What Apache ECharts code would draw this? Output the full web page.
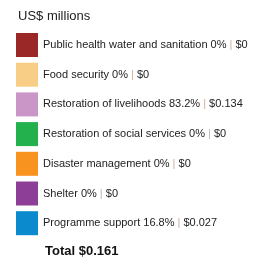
<!DOCTYPE html>
<html lang="en">
<head>
<meta charset="UTF-8">
<style>
  html, body { height: 100%; margin: 0; background: #fff; }
</style>
</head>
<body>
<div id="chart" style="width:258px;height:258px;"></div>
<script src="https://cdn.jsdelivr.net/npm/echarts@6/dist/echarts.min.js"></script>
<script>
var categories = ['Public health water and sanitation', 'Food security', 'Restoration of livelihoods',
    'Restoration of social services', 'Disaster management', 'Shelter', 'Programme support'];
var percents = ['0', '0', '83.2', '0', '0', '0', '16.8'];
var amounts = [0, 0, 0.134, 0, 0, 0, 0.027];
var colors = ['#992826', '#f8cd85', '#c996c7', '#22b14c', '#f7931e', '#8d3f97', '#0b8bcd'];

var total = amounts.reduce(function (a, b) { return a + b; }, 0);

function fmt(v) {
    return v === 0 ? '$0' : '$' + v.toFixed(3);
}

var myChart = echarts.init(document.getElementById('chart'));
myChart.setOption({
    animation: false,
    color: colors,
    title: [{
        text: 'US$ millions',
        left: 13,
        top: 5,
        textStyle: { fontFamily: 'Liberation Sans', fontSize: 13, fontWeight: 'normal', color: '#222' }
    }, {
        text: 'Total ' + fmt(total),
        left: 40,
        top: 240,
        textStyle: { fontFamily: 'Liberation Sans', fontSize: 13, fontWeight: 'bold', color: '#111' }
    }],
    legend: {
        orient: 'vertical',
        left: 16,
        top: 33,
        padding: 0,
        icon: 'rect',
        itemWidth: 22,
        itemHeight: 24,
        itemGap: 5.7,
        selectedMode: false,
        data: categories,
        formatter: function (name) {
            var i = categories.indexOf(name);
            return '{n|' + name + ' ' + percents[i] + '% }{s||}{n| ' + fmt(amounts[i]) + '}';
        },
        textStyle: {
            fontFamily: 'Liberation Sans',
            fontSize: 11,
            color: '#222',
            rich: {
                n: { fontFamily: 'Liberation Sans', fontSize: 11, color: '#222' },
                s: { fontFamily: 'Liberation Sans', fontSize: 11, color: '#c8b0a8' }
            }
        }
    },
    series: [{
        type: 'pie',
        radius: [0, 0],
        center: [-100, -100],
        silent: true,
        label: { show: false },
        data: categories.map(function (c, i) {
            return { name: c, value: amounts[i] };
        })
    }]
});
</script>
</body>
</html>
